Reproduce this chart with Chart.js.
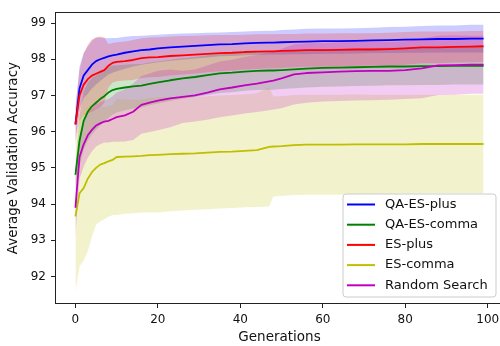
<!DOCTYPE html>
<html><head><meta charset="utf-8">
<script src="https://cdn.jsdelivr.net/npm/chart.js@4.4.0/dist/chart.umd.min.js"></script>
<style>
html,body{margin:0;padding:0;overflow:hidden;background:#fff;width:500px;height:346px}
#wrap{position:absolute;left:0;top:0;width:510px;height:346px}
</style>
</head><body><div id="wrap"><canvas id="c" width="510" height="346"></canvas></div>
<script>
// ---- data ----
const generations = [0,1,2,3,4,5,6,7,8,9,10,12,14,16,18,20,23,26,29,32,35,38,41,44,47,48,50,53,56,60,64,68,72,76,80,84,88,92,96,99];
const xTicks = [0,20,40,60,80,100];
const yTicks = [92,93,94,95,96,97,98,99];
const seriesNames = ['QA-ES-plus','QA-ES-comma','ES-plus','ES-comma','Random Search'];

const qaEsPlusMean = [96.2,97.2,97.55,97.7,97.85,97.95,98.0,98.04,98.08,98.11,98.13,98.18,98.22,98.25,98.27,98.3,98.33,98.35,98.37,98.39,98.41,98.42,98.44,98.45,98.46,98.46,98.47,98.48,98.49,98.5,98.5,98.51,98.52,98.53,98.54,98.55,98.56,98.56,98.57,98.57];
const qaEsPlusStd  = [0.45,0.6,0.62,0.65,0.66,0.65,0.6,0.55,0.5,0.48,0.46,0.44,0.42,0.4,0.39,0.38,0.37,0.36,0.35,0.34,0.33,0.33,0.33,0.33,0.33,0.33,0.34,0.34,0.35,0.35,0.35,0.35,0.35,0.36,0.36,0.37,0.37,0.37,0.38,0.38];

const qaEsCommaMean = [94.81,95.75,96.3,96.55,96.7,96.8,96.9,96.98,97.08,97.15,97.18,97.22,97.25,97.27,97.32,97.36,97.42,97.47,97.51,97.56,97.61,97.63,97.66,97.68,97.69,97.69,97.7,97.72,97.74,97.76,97.77,97.78,97.79,97.8,97.8,97.81,97.81,97.82,97.82,97.82];
const qaEsCommaStd  = [0.3,0.7,0.8,0.8,0.78,0.75,0.73,0.72,0.7,0.68,0.65,0.63,0.61,0.6,0.59,0.58,0.57,0.56,0.55,0.55,0.54,0.54,0.53,0.53,0.53,0.53,0.52,0.52,0.52,0.52,0.52,0.52,0.52,0.52,0.52,0.52,0.52,0.52,0.52,0.52];

const esPlusMean = [96.2,97.0,97.3,97.45,97.55,97.6,97.65,97.7,97.82,97.9,97.93,97.95,97.98,98.03,98.05,98.06,98.09,98.11,98.13,98.15,98.17,98.18,98.2,98.21,98.22,98.22,98.23,98.24,98.25,98.25,98.26,98.27,98.27,98.28,98.3,98.33,98.33,98.34,98.35,98.36];
const esPlusStd  = [0.5,0.7,0.85,0.95,1.0,1.0,0.98,0.9,0.6,0.55,0.54,0.54,0.55,0.55,0.55,0.55,0.54,0.53,0.52,0.51,0.5,0.49,0.48,0.48,0.47,0.47,0.47,0.46,0.46,0.46,0.46,0.45,0.45,0.45,0.45,0.44,0.44,0.43,0.43,0.43];

const esCommaMean = [93.66,94.3,94.44,94.7,94.88,95.0,95.09,95.13,95.18,95.22,95.3,95.31,95.32,95.33,95.35,95.36,95.38,95.39,95.4,95.42,95.44,95.45,95.47,95.49,95.58,95.59,95.6,95.63,95.64,95.64,95.64,95.65,95.65,95.65,95.65,95.66,95.66,95.66,95.66,95.66];
const esCommaStd  = [2.08,2.02,2.0,2.0,1.78,1.57,1.57,1.55,1.53,1.52,1.6,1.58,1.57,1.56,1.58,1.59,1.58,1.57,1.56,1.56,1.56,1.56,1.56,1.57,1.65,1.38,1.38,1.38,1.38,1.38,1.38,1.38,1.37,1.37,1.36,1.36,1.36,1.36,1.36,1.36];

const randomMean = [93.9,95.3,95.65,95.9,96.05,96.17,96.23,96.28,96.3,96.35,96.4,96.45,96.55,96.74,96.8,96.86,96.92,96.96,97.0,97.08,97.17,97.22,97.28,97.33,97.39,97.41,97.47,97.58,97.62,97.64,97.66,97.67,97.68,97.68,97.7,97.75,97.83,97.84,97.85,97.85];
const randomStd  = [0.8,0.6,0.62,0.62,0.6,0.58,0.58,0.58,0.6,0.63,0.68,0.72,0.78,0.8,0.81,0.82,0.8,0.72,0.72,0.75,0.77,0.77,0.78,0.79,0.8,0.8,0.82,0.83,0.82,0.81,0.81,0.81,0.81,0.8,0.8,0.83,0.82,0.82,0.8,0.8];

// ---- styling ----
const colors = ['0,0,255','0,128,0','255,0,0','191,191,0','191,0,191'];
const means = [qaEsPlusMean, qaEsCommaMean, esPlusMean, esCommaMean, randomMean];
const stds  = [qaEsPlusStd, qaEsCommaStd, esPlusStd, esCommaStd, randomStd];

Chart.defaults.font.family = "'DejaVu Sans', sans-serif";
Chart.defaults.color = '#111';

const pts = (arr) => generations.map((g,i)=>({x:g, y:arr[i]}));
const drawOrder = [4,3,2,1,0]; // first in array = drawn on top
const datasets = [];
drawOrder.forEach(s => {
  datasets.push({label: seriesNames[s], data: pts(means[s]), borderColor: 'rgb('+colors[s]+')',
    borderWidth: 1.8, pointRadius: 0, fill: false, tension: 0, borderJoinStyle: 'round'});
});
drawOrder.forEach(s => {
  const up = means[s].map((m,i)=>m+stds[s][i]);
  const lo = means[s].map((m,i)=>m-stds[s][i]);
  const idx = datasets.length;
  datasets.push({label: seriesNames[s]+' upper', data: pts(up), borderWidth: 0, borderColor: 'rgba(0,0,0,0)',
    pointRadius: 0, fill: idx+1, backgroundColor: 'rgba('+colors[s]+',0.2)', tension: 0});
  datasets.push({label: seriesNames[s]+' lower', data: pts(lo), borderWidth: 0, borderColor: 'rgba(0,0,0,0)',
    pointRadius: 0, fill: false, tension: 0});
});

const framePlugin = {
  id: 'frame',
  afterDatasetsDraw(chart) {
    const {ctx, chartArea: a} = chart;
    ctx.save();
    ctx.strokeStyle = '#222'; ctx.lineWidth = 1;
    ctx.strokeRect(Math.round(a.left)+0.5, Math.round(a.top)+0.5, Math.round(a.right-a.left), Math.round(a.bottom-a.top)-1);
    ctx.restore();
  }
};

const legendPlugin = {
  id: 'mplLegend',
  afterDraw(chart) {
    const ctx = chart.ctx;
    const bx = 343, by = 194, bw = 153, bh = 103, r = 3;
    ctx.save();
    ctx.beginPath();
    ctx.moveTo(bx+r, by); ctx.lineTo(bx+bw-r, by); ctx.arcTo(bx+bw, by, bx+bw, by+r, r);
    ctx.lineTo(bx+bw, by+bh-r); ctx.arcTo(bx+bw, by+bh, bx+bw-r, by+bh, r);
    ctx.lineTo(bx+r, by+bh); ctx.arcTo(bx, by+bh, bx, by+bh-r, r);
    ctx.lineTo(bx, by+r); ctx.arcTo(bx, by, bx+r, by, r); ctx.closePath();
    ctx.fillStyle = 'rgba(255,255,255,0.8)'; ctx.fill();
    ctx.strokeStyle = '#cccccc'; ctx.lineWidth = 1; ctx.stroke();
    ctx.font = "13px 'DejaVu Sans', sans-serif";
    ctx.textBaseline = 'middle';
    seriesNames.forEach((name, i) => {
      const y = 204.5 + i*20.2;
      ctx.strokeStyle = 'rgb('+colors[i]+')'; ctx.lineWidth = 2;
      ctx.beginPath(); ctx.moveTo(347, y); ctx.lineTo(375, y); ctx.stroke();
      ctx.fillStyle = '#111';
      ctx.fillText(name, 385, y);
    });
    ctx.restore();
  }
};

new Chart(document.getElementById('c'), {
  type: 'line',
  data: {datasets},
  options: {
    responsive: false, animation: false,
    layout: {padding: {left: 0, right: 6, top: 12, bottom: 0}},
    plugins: {legend: {display: false}, tooltip: {enabled: false}, filler: {drawTime: 'beforeDatasetsDraw', propagate: false}},
    scales: {
      x: {type: 'linear', min: -4.95, max: 103.95,
        afterBuildTicks(s){ s.ticks = xTicks.map(v=>({value:v})); },
        afterFit(s){ s.height = 42; },
        grid: {display: true, drawOnChartArea: false, drawTicks: true, tickLength: 4, color: '#222'},
        border: {display: false},
        ticks: {font: {size: 12}, padding: 5, maxRotation: 0, callback: v => String(v)},
        title: {display: true, text: 'Generations', font: {size: 13.5}, padding: {top: 0, bottom: 0}}
      },
      y: {type: 'linear', min: 91.24, max: 99.3,
        afterBuildTicks(s){ s.ticks = yTicks.map(v=>({value:v})); },
        afterFit(s){ s.width = 55; },
        grid: {display: true, drawOnChartArea: false, drawTicks: true, tickLength: 4, color: '#222'},
        border: {display: false},
        ticks: {font: {size: 12}, padding: 5, callback: v => String(v)},
        title: {display: true, text: 'Average Validation Accuracy', font: {size: 13.5}, padding: {top: 5, bottom: 0}}
      }
    }
  },
  plugins: [framePlugin, legendPlugin]
});
</script></body></html>
